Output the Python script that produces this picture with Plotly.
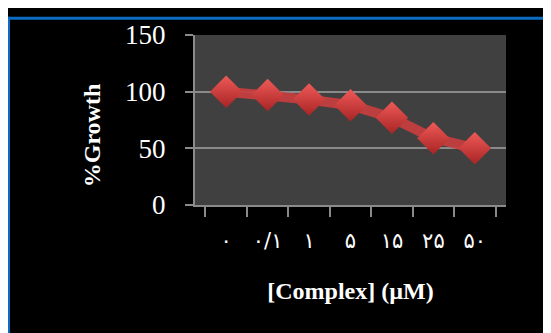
import plotly.graph_objects as go

categories = ["۰", "۰/۱", "۱", "۵", "۱۵", "۲۵", "۵۰"]
growth = [100, 97, 93, 88, 77, 59, 50]
y_ticks = [0, 50, 100, 150]

# page is rendered with an 8px body margin; figure coordinates = page - 8
W, H = 551, 333
ML, MR, MT, MB = 187, 53, 19, 136
PW, PH = W - ML - MR, H - MT - MB

def px(x):
    return (x - ML) / PW

def py(y):
    return (H - MB - y) / PH

fig = go.Figure()
fig.add_trace(go.Scatter(
    x=categories, y=growth, mode="lines+markers",
    line=dict(color="rgba(200,62,62,0.92)", width=10),
    marker=dict(symbol="diamond", size=25, color="#ee5a58",
                gradient=dict(type="vertical", color="#a82424"),
                line=dict(width=0)),
    showlegend=False, cliponaxis=False,
))

gray = "#8a8a8a"
fig.update_layout(
    width=W, height=H,
    margin=dict(l=ML, r=MR, t=MT, b=MB),
    paper_bgcolor="#000000",
    plot_bgcolor="#404040",
    xaxis=dict(
        type="category", tickson="boundaries", ticks="outside", ticklen=10,
        tickwidth=2, tickcolor=gray, showline=True, linecolor=gray, linewidth=2,
        showgrid=False, zeroline=False, ticklabelstandoff=16,
        tickfont=dict(family="DejaVu Sans", size=21, color="#ffffff"),
        title=dict(text="<b>[Complex] (µM)</b>", standoff=30,
                   font=dict(family="Liberation Serif", size=24, color="#ffffff")),
    ),
    yaxis=dict(
        range=[0, 150], tickvals=y_ticks, ticks="outside", ticklen=8, tickwidth=2,
        tickcolor=gray, showline=True, linecolor=gray, linewidth=2,
        showgrid=True, gridcolor=gray, gridwidth=2, zeroline=False,
        ticklabelstandoff=14,
        tickfont=dict(family="Liberation Serif", size=27, color="#ffffff"),
    ),
    annotations=[
        dict(text="<b>%Growth</b>", xref="paper", yref="paper", x=px(84), y=py(124),
             xanchor="center", yanchor="middle", textangle=-90, showarrow=False,
             font=dict(family="Liberation Serif", size=24, color="#ffffff")),
    ],
    shapes=[
        dict(type="rect", xref="paper", yref="paper", x0=px(0), x1=px(W), y0=py(0), y1=py(3),
             fillcolor="#0b6cc2", line=dict(width=0)),
        dict(type="rect", xref="paper", yref="paper", x0=px(0), x1=px(2), y0=py(0), y1=py(H),
             fillcolor="#0b6cc2", line=dict(width=0)),
    ],
)

fig.write_html("out.html")
